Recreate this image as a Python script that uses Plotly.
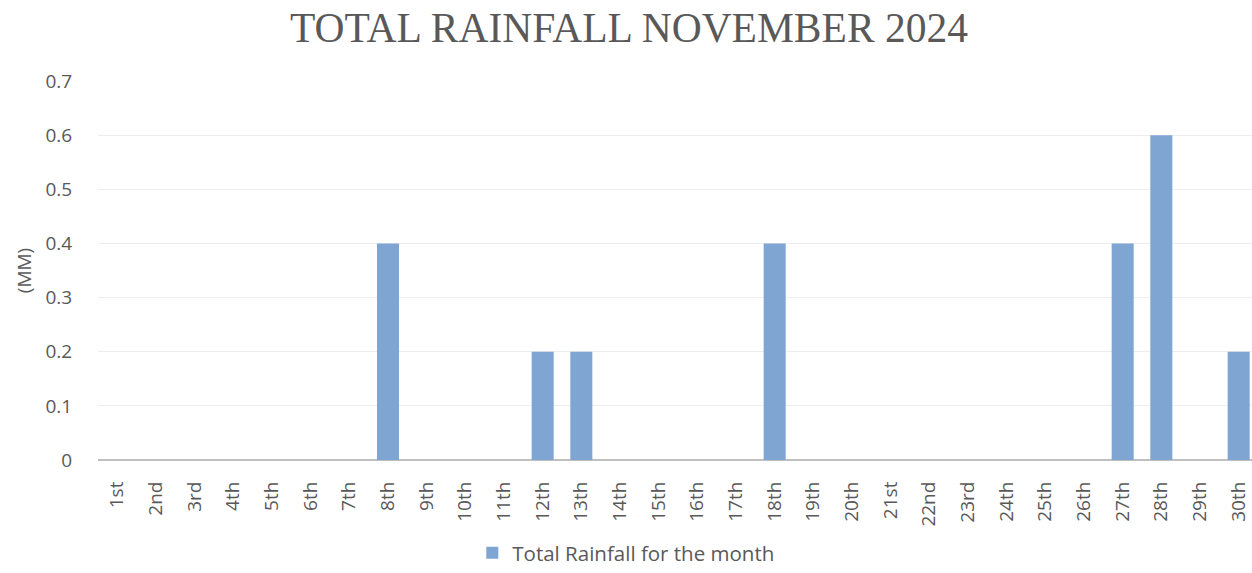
import plotly.graph_objects as go

days = ["1st","2nd","3rd","4th","5th","6th","7th","8th","9th","10th","11th","12th","13th","14th","15th",
        "16th","17th","18th","19th","20th","21st","22nd","23rd","24th","25th","26th","27th","28th","29th","30th"]
rainfall = [0,0,0,0,0,0,0,0.4,0,0,0,0.2,0.2,0,0,0,0,0.4,0,0,0,0,0,0,0,0,0.4,0.6,0,0.2]
y_ticks = [0,0.1,0.2,0.3,0.4,0.5,0.6,0.7]
y_labels = ["0","0.1","0.2","0.3","0.4","0.5","0.6","0.7"]

fig = go.Figure()
fig.add_trace(go.Bar(
    x=days, y=rainfall, name="Total Rainfall for the month",
    marker=dict(color="#7FA6D3", line=dict(width=0)),
    width=0.57,
))

fig.update_layout(
    width=1258, height=573,
    margin=dict(l=98, r=0, t=81, b=104),
    paper_bgcolor="white", plot_bgcolor="white",
    title=dict(text="TOTAL RAINFALL NOVEMBER 2024", x=0.5, xanchor="center", y=0.952, yanchor="middle",
               font=dict(family="Liberation Serif, DejaVu Serif, serif", size=41.5, color="#595959")),
    font=dict(family="Open Sans, Liberation Sans, sans-serif", color="#595959"),
    showlegend=True,
    legend=dict(orientation="h", x=0.455, xanchor="center", y=-0.245, yanchor="middle",
                font=dict(size=20.5, color="#595959"), itemwidth=30),
)
fig.update_xaxes(tickangle=-90, tickfont=dict(size=19, color="#595959"), showline=False,
                 showgrid=False, ticks="outside", ticklen=13, tickcolor="rgba(0,0,0,0)",
                 range=[-0.5, 29.5], automargin=False)
fig.update_yaxes(range=[0, 0.7], tickvals=y_ticks, ticktext=y_labels,
                 tickfont=dict(size=19, color="#595959"), showgrid=True, gridcolor="#EDEDED", gridwidth=1,
                 zeroline=True, zerolinecolor="#BFBFBF", zerolinewidth=2,
                 ticks="outside", ticklen=21, tickcolor="rgba(0,0,0,0)", automargin=False,
                 title=dict(text="(MM)", font=dict(size=19, color="#595959"), standoff=8))

fig.write_html("out.html", config={"displayModeBar": False, "responsive": False},
               post_script="document.body.style.margin='0';document.body.style.overflow='hidden';")
